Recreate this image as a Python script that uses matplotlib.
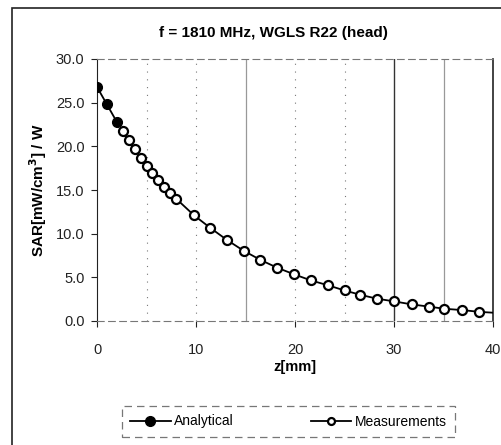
import matplotlib
matplotlib.use("Agg")
import matplotlib.pyplot as plt
from matplotlib.patches import Rectangle

plt.rcParams['font.family'] = ['Liberation Sans', 'DejaVu Sans']

# analytical points (filled markers)
z_analytical = [0.0, 1.0, 2.0]
sar_analytical = [26.8, 24.8, 22.8]

# measured points (open markers); last point only continues the line to 40
z_meas = [2.6, 3.2, 3.8, 4.4, 5.0, 5.6, 6.2, 6.8, 7.4, 8.0, 9.8, 11.4, 13.1,
          14.8, 16.5, 18.2, 19.9, 21.6, 23.3, 25.0, 26.6, 28.3, 30.0, 31.8,
          33.5, 35.1, 36.9, 38.6, 40.0]
sar_meas = [21.7, 20.7, 19.7, 18.7, 17.8, 16.9, 16.1, 15.35, 14.7, 14.0, 12.1,
            10.7, 9.3, 8.05, 7.0, 6.1, 5.35, 4.65, 4.1, 3.5, 3.0, 2.55, 2.25,
            1.9, 1.65, 1.4, 1.25, 1.05, 0.95]

fig = plt.figure(figsize=(5.01, 4.45), dpi=100)
ax = fig.add_axes([97 / 501, 1 - 321 / 445, 396 / 501, 262 / 445])

# outer frame of the scanned chart
fig.patches.append(Rectangle((12 / 501, -0.05), 1.2, 1 - 8 / 445 + 0.05,
                             transform=fig.transFigure, fill=False,
                             edgecolor='#222222', lw=1.2))

# vertical grid lines
for x in [5, 10, 20, 25]:
    ax.axvline(x, color='#777777', lw=0.8, ls=(0, (1, 6)), zorder=1)
for x in [15, 35]:
    ax.axvline(x, color='#999999', lw=0.9, zorder=1)
ax.axvline(30, color='#333333', lw=1.0, zorder=1)

ax.plot(z_meas, sar_meas, color='black', lw=1.3, marker='o', ms=6.5,
        mfc='white', mec='black', mew=1.6, markevery=list(range(len(z_meas) - 1)),
        label='Measurements', zorder=3)
ax.plot(z_analytical, sar_analytical, color='black', lw=1.3, marker='o', ms=7,
        mfc='black', mec='black', label='Analytical', zorder=4)

ax.set_xlim(0, 40)
ax.set_ylim(0, 30)
ax.set_xticks([0, 10, 20, 30, 40])
ax.set_yticks([0, 5, 10, 15, 20, 25, 30])
ax.set_yticklabels([f'{v:.1f}' for v in [0, 5, 10, 15, 20, 25, 30]])
ax.tick_params(labelsize=10.5, length=4, width=0.8, colors='#222222', pad=5)
ax.tick_params(axis='x', pad=12)

for s in ['top', 'bottom']:
    ax.spines[s].set_linestyle((0, (6, 4)))
    ax.spines[s].set_color('#777777')
ax.spines['left'].set_color('#222222')
ax.spines['right'].set_color('#222222')
ax.spines['right'].set_linewidth(1.2)

ax.set_xlabel('z[mm]', fontsize=10.5, fontweight='bold', labelpad=2)
ax.set_ylabel('SAR[mW/cm$^\\mathbf{3}$] / W', fontsize=11, fontweight='bold', labelpad=5)

fig.text(273 / 501, 1 - 33 / 445, 'f = 1810 MHz, WGLS R22 (head)',
         ha='center', va='center', fontsize=11, fontweight='bold')

handles, labels = ax.get_legend_handles_labels()
handles = handles[::-1]
labels = labels[::-1]
leg = fig.legend(handles, labels, loc='center', mode='expand',
                 bbox_to_anchor=(122 / 501, 1 - 438 / 445, 333 / 501, 33 / 445),
                 ncol=2, fontsize=10, frameon=True, fancybox=False,
                 handlelength=2.9, handletextpad=0.25, borderpad=0.6,
                 borderaxespad=0)
leg.get_frame().set_edgecolor('#555555')
leg.get_frame().set_linestyle((0, (6, 4)))
leg.get_frame().set_linewidth(0.9)
leg.legend_handles[1].set_markersize(5)

fig.savefig('out.png', dpi=100)
